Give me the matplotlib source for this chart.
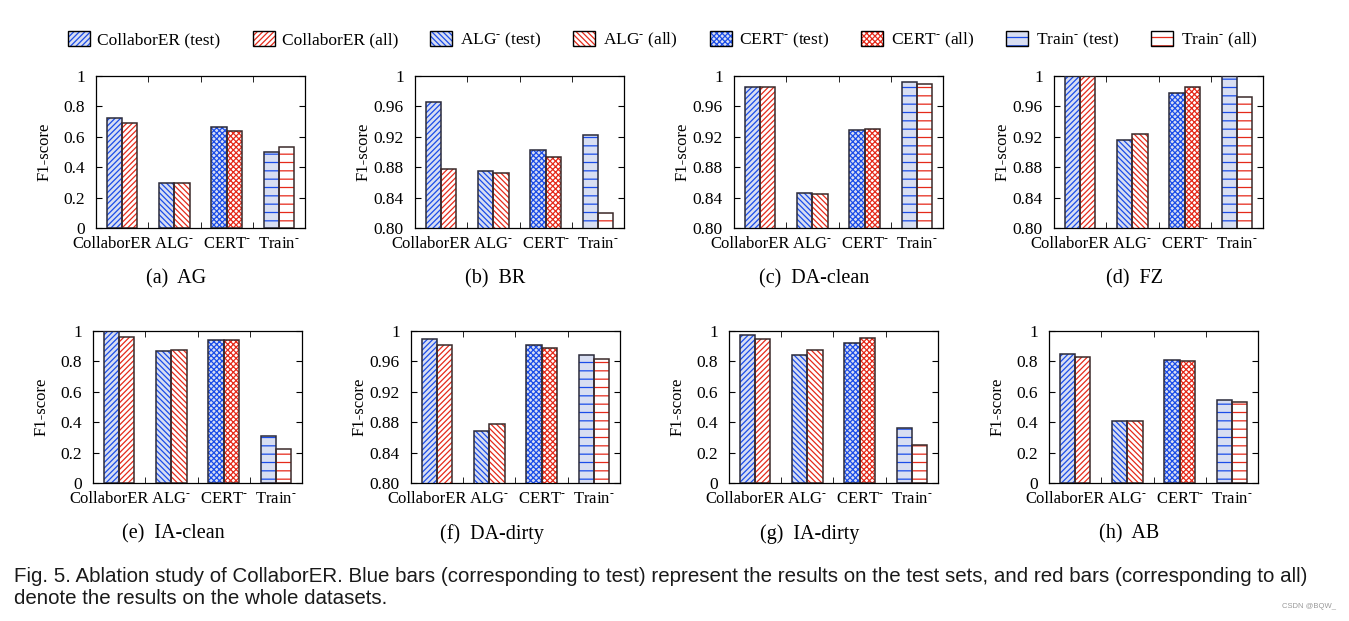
import matplotlib
matplotlib.use('Agg')
import matplotlib.pyplot as plt
import matplotlib.transforms as mtransforms
from matplotlib.patches import Patch
from matplotlib.legend_handler import HandlerTuple
import numpy as np

plt.rcParams['font.family'] = ['Liberation Serif', 'DejaVu Serif']
plt.rcParams['mathtext.fontset'] = 'custom'
plt.rcParams['mathtext.rm'] = 'Liberation Serif'
plt.rcParams['mathtext.default'] = 'rm'
plt.rcParams['hatch.linewidth'] = 0.9

# ---- data ----
sup = '$^{\u2010}$'
methods = ['CollaborER', 'ALG' + sup, 'CERT' + sup, 'Train' + sup]
datasets = ['AG', 'BR', 'DA-clean', 'FZ', 'IA-clean', 'DA-dirty', 'IA-dirty', 'AB']
letters = ['a', 'b', 'c', 'd', 'e', 'f', 'g', 'h']

ag_test = [0.721, 0.297, 0.666, 0.501]
ag_all = [0.688, 0.297, 0.640, 0.532]
br_test = [0.966, 0.875, 0.903, 0.923]
br_all = [0.877, 0.873, 0.894, 0.820]
daclean_test = [0.986, 0.846, 0.929, 0.992]
daclean_all = [0.986, 0.845, 0.930, 0.989]
fz_test = [1.000, 0.916, 0.977, 1.000]
fz_all = [1.000, 0.924, 0.986, 0.972]
iaclean_test = [1.000, 0.867, 0.939, 0.311]
iaclean_all = [0.958, 0.877, 0.939, 0.225]
dadirty_test = [0.990, 0.869, 0.982, 0.969]
dadirty_all = [0.981, 0.878, 0.978, 0.963]
iadirty_test = [0.976, 0.840, 0.921, 0.359]
iadirty_all = [0.945, 0.873, 0.956, 0.249]
ab_test = [0.847, 0.405, 0.812, 0.545]
ab_all = [0.827, 0.407, 0.805, 0.532]

test_scores = [ag_test, br_test, daclean_test, fz_test,
               iaclean_test, dadirty_test, iadirty_test, ab_test]
all_scores = [ag_all, br_all, daclean_all, fz_all,
              iaclean_all, dadirty_all, iadirty_all, ab_all]

full_ticks = [0, 0.2, 0.4, 0.6, 0.8, 1.0]
full_labels = ['0', '0.2', '0.4', '0.6', '0.8', '1']
zoom_ticks = [0.80, 0.84, 0.88, 0.92, 0.96, 1.0]
zoom_labels = ['0.80', '0.84', '0.88', '0.92', '0.96', '1']
zoomed = [False, True, True, True, False, True, False, False]

# ---- style ----
hatches = ['//////', '\\\\\\\\\\\\', 'xxxxxx', '--']
blue_fill = '#d8def2'
blue_hatch = '#1a4ce8'
red_hatch = '#e52a1a'

W, H = 1349, 621
fig = plt.figure(figsize=(W / 100, H / 100), dpi=100)

lefts = [96, 415, 734, 1054, 93, 411, 729, 1049]
tops = [76] * 4 + [331] * 4
ax_w, ax_h = 209, 152

x = np.arange(len(methods))
bw = 0.29

for i in range(8):
    ax = fig.add_axes([lefts[i] / W, 1 - (tops[i] + ax_h) / H, ax_w / W, ax_h / H])
    for j in range(len(methods)):
        # hatch layer first, then a dark outline on top
        ax.bar(x[j] - bw / 2, test_scores[i][j], bw, color=blue_fill,
               edgecolor=blue_hatch, hatch=hatches[j], linewidth=0, zorder=2)
        ax.bar(x[j] - bw / 2, test_scores[i][j], bw, fill=False,
               edgecolor='#2a2a3a', linewidth=1.1, zorder=3)
        ax.bar(x[j] + bw / 2, all_scores[i][j], bw, color='white',
               edgecolor=red_hatch, hatch=hatches[j], linewidth=0, zorder=2)
        ax.bar(x[j] + bw / 2, all_scores[i][j], bw, fill=False,
               edgecolor='#3a2a2a', linewidth=1.1, zorder=3)
    ax.set_xlim(-0.5, 3.5)
    if zoomed[i]:
        ax.set_ylim(0.80, 1.0)
        ax.set_yticks(zoom_ticks)
        ax.set_yticklabels(zoom_labels)
    else:
        ax.set_ylim(0, 1.0)
        ax.set_yticks(full_ticks)
        ax.set_yticklabels(full_labels)
    ax.set_xticks(x)
    ax.set_xticklabels(methods)
    ax.set_xticks([0.5, 1.5, 2.5], minor=True)
    ax.tick_params(axis='x', which='major', length=0, pad=5.5, labelsize=12)
    ax.tick_params(axis='x', which='minor', direction='in', length=4, top=True)
    ax.tick_params(axis='y', direction='in', length=4, right=True, labelsize=12.5, pad=8)
    # first label sits a bit to the left, as in the original
    lbl0 = ax.get_xticklabels()[0]
    lbl0.set_transform(lbl0.get_transform() +
                       mtransforms.ScaledTranslation(-0.10, 0, fig.dpi_scale_trans))
    ax.set_ylabel('F1-score', fontsize=12)
    ax.yaxis.set_label_coords(-43 / ax_w, 0.5)
    for s in ax.spines.values():
        s.set_linewidth(0.9)
    cx = (lefts[i] + ax_w / 2 - 24) / W
    cy = 1 - (tops[i] + 203) / H
    fig.text(cx, cy, '(%s)  %s' % (letters[i], datasets[i]), ha='center', va='center',
             fontsize=14.5)

# ---- legend ----
handles = []
labels = []
for j, m in enumerate(methods):
    for kind, fc, hc in [('test', blue_fill, blue_hatch), ('all', 'white', red_hatch)]:
        p1 = Patch(facecolor=fc, edgecolor=hc, hatch=hatches[j], linewidth=0)
        p2 = Patch(fill=False, edgecolor='black', linewidth=1.0)
        handles.append((p1, p2))
        labels.append('%s (%s)' % (m, kind))

fig.legend(handles, labels, loc='center left', bbox_to_anchor=(68 / W, 1 - 40 / H),
           ncol=8, frameon=False, fontsize=12.5, handlelength=1.27, handleheight=0.95,
           handletextpad=0.42, columnspacing=1.85, borderpad=0, borderaxespad=0,
           handler_map={tuple: HandlerTuple(ndivide=1)})

# ---- caption ----
cap1 = ('Fig. 5. Ablation study of CollaborER. Blue bars (corresponding to test) represent the '
        'results on the test sets, and red bars (corresponding to all)')
cap2 = 'denote the results on the whole datasets.'
fig.text(14 / W, 1 - 577 / H, cap1, ha='left', va='center', fontsize=14.75,
         family='Liberation Sans', color='#1a1a1a')
fig.text(14 / W, 1 - 598 / H, cap2, ha='left', va='center', fontsize=14.75,
         family='Liberation Sans', color='#1a1a1a')
fig.text(1336 / W, 1 - 606 / H, 'CSDN @BQW_', ha='right', va='center', fontsize=5.5,
         family='Liberation Sans', color='#999999')

fig.savefig('out.png', dpi=100)
